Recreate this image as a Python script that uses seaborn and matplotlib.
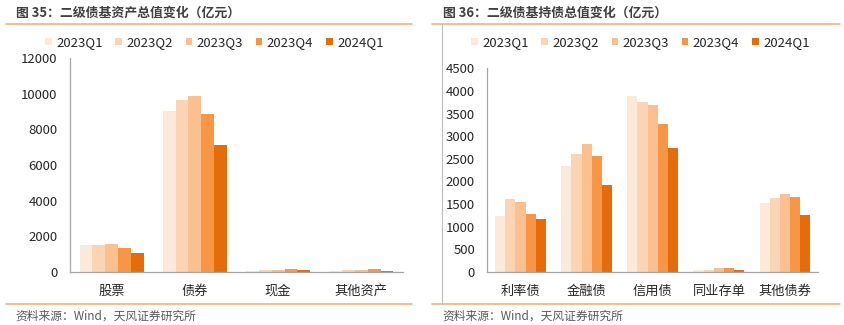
import numpy as np
import pandas as pd
import matplotlib
matplotlib.use("Agg")
import matplotlib.pyplot as plt
from matplotlib.patches import Patch
from matplotlib.lines import Line2D
import seaborn as sns

# ---- data (亿元) ----
quarters = ["2023Q1", "2023Q2", "2023Q3", "2023Q4", "2024Q1"]
colors = ["#FDE9D9", "#FBD4B4", "#FAC090", "#F79646", "#E46C0A"]

asset_cats = ["股票", "债券", "现金", "其他资产"]
asset_stock = [1500, 1500, 1580, 1350, 1060]
asset_bond = [9030, 9650, 9870, 8840, 7120]
asset_cash = [70, 110, 90, 190, 120]
asset_other = [70, 120, 130, 190, 80]

bond_cats = ["利率债", "金融债", "信用债", "同业存单", "其他债券"]
bond_rate = [1232, 1608, 1541, 1276, 1173]
bond_fin = [2338, 2603, 2832, 2566, 1932]
bond_credit = [3886, 3754, 3687, 3267, 2729]
bond_ncd = [52, 52, 81, 81, 37]
bond_other = [1527, 1630, 1733, 1652, 1254]

left_ticks = [0, 2000, 4000, 6000, 8000, 10000, 12000]
right_ticks = [0, 500, 1000, 1500, 2000, 2500, 3000, 3500, 4000, 4500]

sns.set_theme(style="white")
plt.rcParams["font.family"] = ["Noto Sans CJK SC", "DejaVu Sans"]

def long_table(cats, series):
    rows = []
    for cat, vals in zip(cats, series):
        for q, v in zip(quarters, vals):
            rows.append({"类别": cat, "季度": q, "值": v})
    return pd.DataFrame(rows)

df_assets = long_table(asset_cats, [asset_stock, asset_bond, asset_cash, asset_other])
df_bonds = long_table(bond_cats, [bond_rate, bond_fin, bond_credit, bond_ncd, bond_other])

fig = plt.figure(figsize=(8.45, 3.25), dpi=100)
W, H = 845, 325

def fx(px):
    return px / W

def fy(py):
    return 1 - py / H

axis_gray = "#A6A6A6"
text_dark = "#262626"

def draw_panel(ax, df, cats, ticks):
    sns.barplot(data=df, x="类别", y="值", hue="季度", hue_order=quarters,
                order=cats, palette=colors, width=0.77, gap=0,
                linewidth=0, saturation=1, legend=False, ax=ax)
    n = len(cats)
    ax.set_xlim(-0.5, n - 0.5)
    ax.set_ylim(ticks[0], ticks[-1])
    ax.set_yticks(ticks)
    ax.set_yticklabels([str(t) for t in ticks], fontsize=9.5, color=text_dark)
    ax.set_xticks(range(n))
    ax.set_xticklabels(cats, fontsize=9.5, color=text_dark)
    ax.set_xticks(np.arange(-0.5, n, 1.0), minor=True)
    ax.tick_params(axis="x", which="major", length=0, pad=9)
    ax.tick_params(axis="x", which="minor", length=4, width=0.8, color=axis_gray, direction="out")
    ax.tick_params(axis="y", which="major", length=4, width=0.8, color=axis_gray, direction="out", pad=5)
    ax.set_xlabel("")
    ax.set_ylabel("")
    for s in ["top", "right"]:
        ax.spines[s].set_visible(False)
    for s in ["left", "bottom"]:
        ax.spines[s].set_color(axis_gray)
        ax.spines[s].set_linewidth(0.9)
    ax.set_facecolor("none")

ax1 = fig.add_axes([fx(70), fy(272), fx(403 - 70), (272 - 58) / H])
draw_panel(ax1, df_assets, asset_cats, left_ticks)

ax2 = fig.add_axes([fx(487.5), fy(272), fx(818 - 487.5), (272 - 68.3) / H])
draw_panel(ax2, df_bonds, bond_cats, right_ticks)

handles = [Patch(facecolor=c, edgecolor="none", label=q) for c, q in zip(colors, quarters)]
leg_kw = dict(frameon=False, ncol=5, fontsize=9.5, handlelength=0.5, handleheight=0.5,
              handletextpad=0.35, columnspacing=0.95, borderpad=0, borderaxespad=0,
              loc="center left", labelcolor=text_dark)
fig.legend(handles=handles, bbox_to_anchor=(fx(45), fy(42.5)), **leg_kw)
fig.legend(handles=handles, bbox_to_anchor=(fx(471), fy(42.5)), **leg_kw)

# titles
title_kw = dict(fontsize=9.3, fontweight="bold", color="#404040", va="center", ha="left")
fig.text(fx(16), fy(13), "图 35：二级债基资产总值变化（亿元）", **title_kw)
fig.text(fx(443), fy(13), "图 36：二级债基持债总值变化（亿元）", **title_kw)

# frame lines
orange = "#F4B183"
for x0, x1 in [(6, 412), (432, 840)]:
    for yy in (24, 304):
        fig.add_artist(Line2D([fx(x0), fx(x1)], [fy(yy), fy(yy)], color=orange, lw=1.2))
fig.add_artist(Line2D([fx(441.5), fx(441.5)], [fy(24), fy(304)], color="#BFBFBF", lw=0.8))

# source notes
src_kw = dict(fontsize=8.5, color="#595959", va="center", ha="left")
fig.text(fx(15), fy(316), "资料来源：Wind，天风证券研究所", **src_kw)
fig.text(fx(442), fy(316), "资料来源：Wind，天风证券研究所", **src_kw)

fig.savefig("out.png", dpi=100)
